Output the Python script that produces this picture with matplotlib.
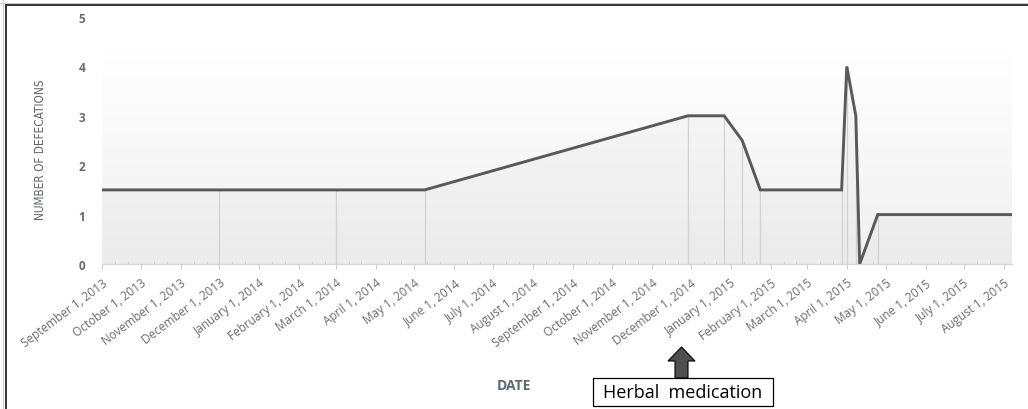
import matplotlib
matplotlib.use("Agg")
import matplotlib.pyplot as plt
import matplotlib.dates as mdates
from matplotlib.patches import Rectangle, Polygon
from matplotlib.lines import Line2D
from matplotlib.colors import LinearSegmentedColormap
import numpy as np
import datetime as dt

# ---- data ----
dates = ["2013-09-01", "2013-12-01", "2014-03-01", "2014-05-09", "2014-11-29",
         "2014-12-27", "2015-01-10", "2015-01-24", "2015-03-28", "2015-04-01",
         "2015-04-08", "2015-04-11", "2015-04-25", "2015-08-07"]
values = [1.5, 1.5, 1.5, 1.5, 3.0, 3.0, 2.5, 1.5, 1.5, 4.0, 3.0, 0.0, 1.0, 1.0]
yticks = [0, 1, 2, 3, 4, 5]
month_starts = ["2013-09-01", "2013-10-01", "2013-11-01", "2013-12-01", "2014-01-01",
                "2014-02-01", "2014-03-01", "2014-04-01", "2014-05-01", "2014-06-01",
                "2014-07-01", "2014-08-01", "2014-09-01", "2014-10-01", "2014-11-01",
                "2014-12-01", "2015-01-01", "2015-02-01", "2015-03-01", "2015-04-01",
                "2015-05-01", "2015-06-01", "2015-07-01", "2015-08-01"]
month_labels = ["September 1, 2013", "October 1, 2013", "November 1, 2013", "December 1, 2013",
                "January 1, 2014", "February 1, 2014", "March 1, 2014", "April 1, 2014",
                "May 1, 2014", "June 1, 2014", "July 1, 2014", "August 1, 2014",
                "September 1, 2014", "October 1, 2014", "November 1, 2014", "December 1, 2014",
                "January 1, 2015", "February 1, 2015", "March 1, 2015", "April 1, 2015",
                "May 1, 2015", "June 1, 2015", "July 1, 2015", "August 1, 2015"]
annotation_text = "Herbal  medication"

W, H = 1028, 410
fig = plt.figure(figsize=(W / 100, H / 100), dpi=100)

def fx(px):
    return px / W

def fy(py):
    return 1 - py / H

ax = fig.add_axes([fx(102), fy(265), fx(1012) - fx(102), fy(18) - fy(265)])

xd = mdates.datestr2num(dates)
xt = mdates.datestr2num(month_starts)
x0, x1 = xd[0], xd[-1]

# gradient background
grad = np.linspace(0, 1, 256).reshape(-1, 1)
cmap = LinearSegmentedColormap.from_list("g", ["#ffffff", "#f0f0f0"])
ax.imshow(grad, aspect="auto", cmap=cmap, extent=[x0, x1, 0, 4.42],
          origin="upper", zorder=0, interpolation="bicubic")

ax.fill_between(xd, 0, values, color="#000000", alpha=0.018, lw=0, zorder=1)
ax.vlines(xd[1:-1], 0, values[1:-1], colors="#d2d2d2", lw=0.9, zorder=2)
ax.plot(xd, values, color="#595959", lw=2.1, solid_joinstyle="miter", zorder=3)

ax.set_xlim(x0, x1)
ax.set_ylim(0, 5)

for s in ["top", "right", "left"]:
    ax.spines[s].set_visible(False)
ax.spines["bottom"].set_color("#d6d6d6")
ax.spines["bottom"].set_linewidth(0.9)

ax.set_yticks(yticks)
ax.set_yticklabels([str(v) for v in yticks])
ax.tick_params(axis="y", length=0, pad=12, labelcolor="#6b6b6b", labelsize=8.5)
for t in ax.get_yticklabels():
    t.set_fontweight("bold")
    t.set_family("Open Sans")

ax.set_xticks(xt)
ax.set_xticklabels(month_labels, rotation=37, ha="right", va="top",
                   rotation_mode="anchor", fontsize=8.5, color="#6b6b6b", family="Open Sans")
minor = []
for m in month_starts:
    d = dt.datetime.strptime(m, "%Y-%m-%d")
    for day in (11, 21):
        minor.append(mdates.date2num(d.replace(day=day)))
ax.set_xticks([m for m in minor if x0 <= m <= x1], minor=True)
ax.tick_params(axis="x", which="major", length=3.5, width=0.8, color="#cfcfcf",
               direction="out", pad=5)
ax.tick_params(axis="x", which="minor", length=2, width=0.7, color="#cfcfcf",
               direction="in")

ax.set_facecolor("white")

# axis titles
fig.text(fx(41), fy(150), "NUMBER OF DEFECATIONS", rotation=90, ha="center", va="center",
         fontsize=8.5, fontstretch="condensed", color="#5f6368",
         family=["Liberation Sans Narrow", "DejaVu Sans"])
fig.text(fx(514), fy(386), "DATE", ha="center", va="center", fontsize=10,
         fontweight="bold", color="#606673", family="Open Sans")

# annotation box and arrow
fig.patches.append(Rectangle((fx(593), fy(407)), fx(773) - fx(593), fy(379) - fy(407),
                             transform=fig.transFigure, facecolor="white",
                             edgecolor="black", lw=0.9))
fig.text(fx(683), fy(393), annotation_text, ha="center", va="center", fontsize=13,
         color="black", family="Open Sans")
arrow_px = [(675, 379), (675, 362), (668, 362), (681.5, 348), (695, 362), (688, 362), (688, 379)]
fig.patches.append(Polygon([(fx(a), fy(b)) for a, b in arrow_px], closed=True,
                           transform=fig.transFigure, facecolor="#4f4f4f",
                           edgecolor="black", lw=0.8))

# frame lines (top and left)
fig.add_artist(Line2D([0, 1], [fy(4), fy(4)], transform=fig.transFigure, color="#cccccc", lw=0.8))
fig.add_artist(Line2D([fx(2.5), fx(2.5)], [0, 1], transform=fig.transFigure, color="#cccccc", lw=0.8))
fig.add_artist(Line2D([fx(5.5), 1], [fy(6), fy(6)], transform=fig.transFigure, color="#333333", lw=1.4))
fig.add_artist(Line2D([fx(5.5), fx(5.5)], [0, fy(6)], transform=fig.transFigure, color="#333333", lw=1.4))

fig.savefig("out.png", dpi=100, facecolor="white")
